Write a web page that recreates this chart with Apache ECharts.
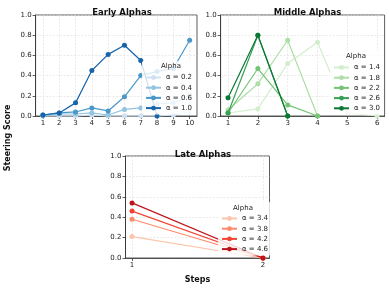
<!DOCTYPE html>
<html><head><meta charset="utf-8">
<script src="https://cdn.jsdelivr.net/npm/echarts@6/dist/echarts.min.js"></script>
<style>html,body{margin:0;padding:0;background:#fff}#c{width:389px;height:288px}</style>
</head><body><div id="c"></div>
<script>
// ---- data ----
const earlySteps = [1,2,3,4,5,6,7,8,9,10];
const earlyAlphas = ['0.2','0.4','0.6','1.0'];
const earlyA02 = [0.0,0.0,0.0,0.01,0.0,0.0,0.0,0.0,0.01,0.04];
const earlyA04 = [0.0,0.02,0.02,0.03,0.01,0.065,0.08,0.12,0.13,0.20];
const earlyA06 = [0.01,0.03,0.04,0.08,0.05,0.19,0.40,0.44,0.47,0.75];
const earlyA10 = [0.01,0.03,0.13,0.45,0.61,0.70,0.55,0.0];
const earlyColors = ['#cfe1f2','#94c4df','#4a98c9','#1764ab'];

const middleSteps = [1,2,3,4,5,6];
const middleAlphas = ['1.4','1.8','2.2','2.6','3.0'];
const middleA14 = [0.03,0.07,0.52,0.73,0.03,0.0];
const middleA18 = [0.06,0.32,0.75,0.0];
const middleA22 = [0.03,0.47,0.11,0.0];
const middleA26 = [0.03,0.80,0.0];
const middleA30 = [0.18,0.80,0.0];
const middleColors = ['#d3eecd','#aedea7','#74c476','#37a055','#0b7734'];

const lateSteps = [1,2];
const lateAlphas = ['3.4','3.8','4.2','4.6'];
const lateA34 = [0.21,0.0];
const lateA38 = [0.38,0.0];
const lateA42 = [0.46,0.0];
const lateA46 = [0.54,0.0];
const lateColors = ['#fcc5ab','#fc8a6a','#f14432','#bc141a'];

const yTicks = [0,0.2,0.4,0.6,0.8,1.0];

// ---- build ----
const FONT = 'DejaVu Sans';
const early = [earlyA02, earlyA04, earlyA06, earlyA10];
const middle = [middleA14, middleA18, middleA22, middleA26, middleA30];
const late = [lateA34, lateA38, lateA42, lateA46];

function pairs(steps, vals){ return vals.map((v,i)=>[steps[i], v]); }

const grids = [
  {left:35.6, top:15, width:161.4, height:101},
  {left:220.6, top:15, width:164, height:101},
  {left:125.5, top:156, width:144, height:102}
];
const stepSets = [earlySteps, middleSteps, lateSteps];

const xAxes = stepSets.map((steps,i)=>{
  const span = steps[steps.length-1]-steps[0];
  return {
    type:'value', gridIndex:i,
    min: steps[0]-0.05*span, max: steps[steps.length-1]+0.05*span,
    axisLine:{show:true, lineStyle:{color:'#333', width:0.8}},
    axisTick:{show:true, length:3, lineStyle:{color:'#333', width:0.8}, customValues: steps},
    axisLabel:{color:'#222', fontSize:7, fontFamily:FONT, margin:4, customValues: steps},
    splitLine:{show:true, lineStyle:{color:'#dcdcdc', width:0.6, type:[2,1.5]}},
    name: i===2 ? 'Steps' : '',
    nameLocation:'middle', nameGap:18,
    nameTextStyle:{fontSize:8, fontWeight:'bold', fontFamily:FONT, color:'#111'}
  };
});
const yAxes = [0,1,2].map(i=>({
  type:'value', gridIndex:i, min:0, max:1, interval:0.2,
  axisLine:{show:true, lineStyle:{color:'#333', width:0.8}},
  axisTick:{show:true, length:3, lineStyle:{color:'#333', width:0.8}},
  axisLabel:{color:'#222', fontSize:7, fontFamily:FONT, margin:4, formatter:v=>v.toFixed(1)},
  splitLine:{show:true, lineStyle:{color:'#dcdcdc', width:0.6, type:[2,1.5]}}
}));

const series = [];
function addGroup(alphas, data, steps, colors, gi){
  alphas.forEach((a,k)=>{
    series.push({
      type:'line', name:'α = '+a, xAxisIndex:gi, yAxisIndex:gi,
      data: pairs(steps, data[k]),
      symbol:'circle', symbolSize:5, showSymbol:true,
      lineStyle:{color:colors[k], width:1.2},
      itemStyle:{color:colors[k]},
      emphasis:{disabled:true}, animation:false, clip:false, z:2+k
    });
  });
}
addGroup(earlyAlphas, early, earlySteps, earlyColors, 0);
addGroup(middleAlphas, middle, middleSteps, middleColors, 1);
addGroup(lateAlphas, late, lateSteps, lateColors, 2);

function legend(alphas, left, top){
  return {
    data: alphas.map(a=>'α = '+a), orient:'vertical', left:left, top:top,
    itemWidth:15, itemHeight:6, itemGap:1.2,
    padding:[12,3,2,3], backgroundColor:'rgba(255,255,255,0.8)', borderRadius:2,
    textStyle:{fontSize:7, fontFamily:FONT, color:'#222', lineHeight:9},
    selectedMode:false, z:10
  };
}
const legends = [legend(earlyAlphas,142,61), legend(middleAlphas,330,51), legend(lateAlphas,218,202)];

const titleStyle = {fontSize:8.5, fontWeight:'bold', fontFamily:FONT, color:'#111'};
const subStyle = {fontSize:7, fontFamily:FONT, color:'#222', fontWeight:'normal'};
const titles = [
  {text:'Early Alphas', left:117, top:3, textAlign:'center', textStyle:titleStyle},
  {text:'Middle Alphas', left:302.5, top:3, textAlign:'center', textStyle:titleStyle},
  {text:'Late Alphas', left:198, top:145, textAlign:'center', textStyle:titleStyle},
  {text:'Alpha', left:171, top:63, textAlign:'center', textStyle:subStyle, padding:0, z:12},
  {text:'Alpha', left:356, top:53, textAlign:'center', textStyle:subStyle, padding:0, z:12},
  {text:'Alpha', left:243, top:205, textAlign:'center', textStyle:subStyle, padding:0, z:12}
];

const chart = echarts.init(document.getElementById('c'), null, {renderer:'canvas'});
chart.setOption({
  animation:false,
  backgroundColor:'#fff',
  title: titles,
  grid: grids.map(g=>Object.assign({show:true, borderColor:'#333', borderWidth:0.8, backgroundColor:'transparent'}, g)),
  xAxis: xAxes, yAxis: yAxes,
  legend: legends,
  series: series,
  graphic:[{
    type:'text', x:8, y:138, rotation:Math.PI/2,
    style:{text:'Steering Score', font:'bold 8px "DejaVu Sans"', fill:'#111', textAlign:'center', textVerticalAlign:'middle'}
  }]
});
</script></body></html>
